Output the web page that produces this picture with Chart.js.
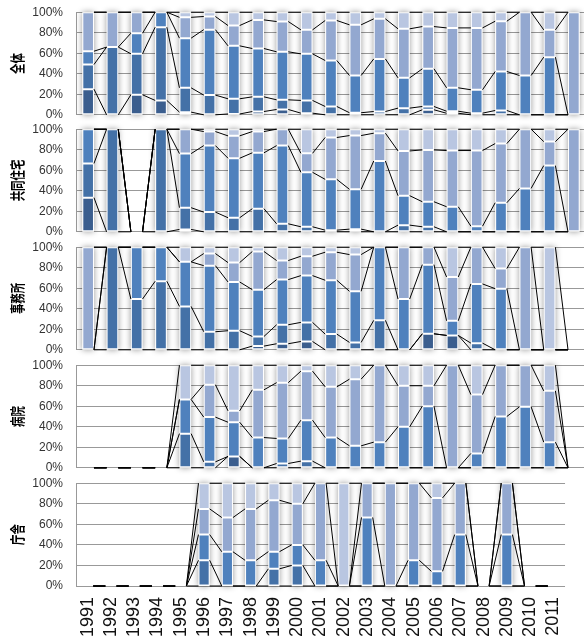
<!DOCTYPE html>
<html>
<head>
<meta charset="utf-8">
<script src="https://cdn.jsdelivr.net/npm/chart.js@4.4.1/dist/chart.umd.min.js"></script>
<style>
  html, body { margin: 0; padding: 0; background: #fff; overflow: hidden; width: 584px; height: 638px; position: relative; }
  canvas { position: absolute; left: 0; }
</style>
</head>
<body>
<canvas id="p1"></canvas>
<canvas id="p2"></canvas>
<canvas id="p3"></canvas>
<canvas id="p4"></canvas>
<canvas id="p5"></canvas>
<script>
// Years on the category axis
const years = ['1991','1992','1993','1994','1995','1996','1997','1998','1999','2000',
               '2001','2002','2003','2004','2005','2006','2007','2008','2009','2010','2011'];

// Panel titles
const panelTitles = ['全体', '共同住宅', '事務所', '病院', '庁舎'];

// Y tick values (percent)
const yTicks = [0, 20, 40, 60, 80, 100];

// 全体 — share per series (%), bottom to top
const whole1 = [25,0,19.5,14,2.6,0,0.8,3.2,5.2,1.6,0,0,0,0,4.9,1.5,0,0,0,0,0];
const whole2 = [24,66,40,71.4,23.7,19.2,14.8,14.3,9.4,12.4,8.1,2,3.2,6.5,3.2,2,1.6,4.2,0,0,0];
const whole3 = [13,0,20,14.6,48.4,63.8,51.6,47.1,46.8,45.4,44.8,36.3,51.3,29.5,36.7,22.8,22.8,38,38.3,56.2,0];
const whole4 = [38,34,20.5,0,20.3,12.8,19.8,27.9,29.5,23.4,39,49.4,39,47.8,41.2,58.4,60.3,49,61.7,26.6,100];
const whole5 = [0,0,0,0,5,4.2,13,7.5,9.1,17.2,8.1,12.3,6.5,16.2,14,15.3,15.3,8.8,0,17.2,0];

// 共同住宅
const housing1 = [33.3,0,0,0,2.3,0,0,0,0,0,0,0,0,0,0,0,0,0,0,0,0];
const housing2 = [33.3,100,0,100,21.2,19.2,13.7,22.5,7.8,4.9,1.6,2.6,0,6.5,4.9,0,0,0,0,0,0];
const housing3 = [33.4,0,0,0,52.7,64.8,58,54.5,76.2,53.1,49.5,38.8,69,28.7,24.4,24.4,5.5,28.3,42.3,64.5,0];
const housing4 = [0,0,0,0,23.8,13.7,21.8,20.7,16,18.5,40.8,52.4,27.1,43.6,50.5,54.8,73.7,57.7,57.7,23.4,100];
const housing5 = [0,0,0,0,0,2.3,6.5,2.3,0,23.5,8.1,6.2,3.9,21.2,20.2,20.8,20.8,14,0,12.1,0];

// 事務所
const office1 = [0,0,0,0,0,0,0,3.6,5.9,8.1,0,0,0,0,15.6,14,0,0,0,0,0];
const office2 = [0,100,49.5,66.8,42.3,17.6,18.6,9.4,18.5,18.6,15.3,7.2,28.7,0,0,0,6.5,0,0,0,0];
const office3 = [0,0,50.5,33.2,43.4,64.4,47.5,45.6,44,45.6,52.5,49.8,71.3,49.5,67.4,14.3,57.7,59.6,0,0,0];
const office4 = [100,0,0,0,0,11.8,18.9,37.2,18.6,18.9,27.3,35.8,0,50.5,17,42.7,35.8,19.6,100,0,0];
const office5 = [0,0,0,0,14.3,6.2,15,4.2,13,8.8,4.9,7.2,0,0,0,29,0,20.8,0,100,0];

// 病院
const hospital1 = [0,0,0,0,0,0,11.1,0,0,0,0,0,0,0,0,0,0,0,0,0,0];
const hospital2 = [0,0,0,0,33.3,5.8,0,0,4.2,6.5,0,0,0,0,0,0,0,0,0,0,0];
const hospital3 = [0,0,0,0,33.3,43.6,33.3,29.5,24.4,39.9,29.5,21.4,25,40,60,0,14,50,59.4,25,0];
const hospital4 = [0,0,0,0,0,31.6,11.1,46.5,54.4,47.8,49.4,65,75,40,20,100,57.4,50,40.6,50,0];
const hospital5 = [0,0,0,0,33.4,19,44.5,24,17,5.8,21.1,13.6,0,20,20,0,28.6,0,0,25,0];

// 庁舎
const govt1 = [0,0,0,0,0,0,0,0,0,0,0,0,0,0,0,0,0,0,0,0,0];
const govt2 = [0,0,0,0,0,25,0,0,16.7,20,0,0,0,0,0,0,0,0,0,0,0];
const govt3 = [0,0,0,0,0,25,33.3,25,16.7,20,25,0,66.7,0,25,14.3,50,0,50,0,0];
const govt4 = [0,0,0,0,0,25,33.3,50,50,40,75,0,33.3,100,75,71.4,50,0,50,0,0];
const govt5 = [0,0,0,0,0,25,33.4,25,16.6,20,0,100,0,0,0,14.3,0,0,0,0,0];

const seriesColors = ['#3B5E8E', '#4471A7', '#4F81BD', '#93A8D0', '#B9C6E1'];
const FONT = "'Liberation Sans', Arial, sans-serif";

// Draws a soft shadow behind each non-empty stacked column
const columnShadow = {
  id: 'columnShadow',
  beforeDatasetsDraw(chart) {
    const { ctx, scales: { y } } = chart;
    const meta = chart.getDatasetMeta(0);
    const sets = chart.data.datasets;
    ctx.save();
    ctx.shadowColor = 'rgba(0,0,0,0.42)';
    ctx.shadowBlur = 6;
    ctx.fillStyle = '#fff';
    meta.data.forEach((el, i) => {
      const total = sets.reduce((s, d) => s + d.data[i], 0);
      if (total <= 0) return;
      const top = y.getPixelForValue(total), bot = y.getPixelForValue(0);
      ctx.fillRect(el.x - el.width / 2, top, el.width, bot - top);
    });
    ctx.restore();
  }
};

// Series lines joining the top of each segment to the next column
const seriesLines = {
  id: 'seriesLines',
  afterDatasetsDraw(chart) {
    const { ctx, scales: { y } } = chart;
    const sets = chart.data.datasets;
    const meta = chart.getDatasetMeta(0);
    const n = chart.data.labels.length;
    const cum = sets.map(() => []);
    for (let i = 0; i < n; i++) {
      let s = 0;
      sets.forEach((d, k) => { s += d.data[i]; cum[k][i] = s; });
    }
    ctx.save();
    ctx.strokeStyle = '#000';
    ctx.lineWidth = 1;
    for (let k = 0; k < sets.length; k++) {
      for (let i = 0; i < n - 1; i++) {
        const a = meta.data[i], b = meta.data[i + 1];
        ctx.beginPath();
        ctx.moveTo(a.x + a.width / 2, y.getPixelForValue(cum[k][i]));
        ctx.lineTo(b.x - b.width / 2, y.getPixelForValue(cum[k][i + 1]));
        ctx.stroke();
      }
    }
    ctx.restore();
  }
};

// Vertical bold panel title at the left
const panelTitle = {
  id: 'panelTitle',
  afterDraw(chart, args, opts) {
    const { ctx, chartArea } = chart;
    ctx.save();
    ctx.translate(17.5, (chartArea.top + chartArea.bottom) / 2);
    ctx.rotate(-Math.PI / 2);
    ctx.scale(0.8, 1.15);
    ctx.font = "bold 13px 'Noto Sans CJK JP', sans-serif";
    ctx.fillStyle = '#000';
    ctx.textAlign = 'center';
    ctx.textBaseline = 'middle';
    ctx.fillText(opts.text, 0, 0);
    ctx.restore();
  }
};

const panels = [
  { id: 'p1', series: [whole1, whole2, whole3, whole4, whole5], top: 12, bottom: 115 },
  { id: 'p2', series: [housing1, housing2, housing3, housing4, housing5], top: 129, bottom: 231.5 },
  { id: 'p3', series: [office1, office2, office3, office4, office5], top: 247, bottom: 349.5 },
  { id: 'p4', series: [hospital1, hospital2, hospital3, hospital4, hospital5], top: 365, bottom: 468 },
  { id: 'p5', series: [govt1, govt2, govt3, govt4, govt5], top: 483, bottom: 585.5 }
];

const CANVAS_W = 586;

panels.forEach((p, idx) => {
  const last = idx === panels.length - 1;
  const canvas = document.getElementById(p.id);
  const startH = last ? 170 : 125;
  canvas.width = CANVAS_W;
  canvas.height = startH;
  canvas.style.width = CANVAS_W + 'px';
  canvas.style.height = startH + 'px';

  const chart = new Chart(canvas, {
    type: 'bar',
    data: {
      labels: years,
      datasets: p.series.map((vals, k) => ({
        label: 'S' + (k + 1),
        data: vals,
        backgroundColor: seriesColors[k],
        borderColor: 'rgba(255,255,255,0.85)',
        borderWidth: 1,
        borderSkipped: false,
        barPercentage: 0.48,
        categoryPercentage: 1
      }))
    },
    options: {
      responsive: false,
      maintainAspectRatio: false,
      animation: false,
      devicePixelRatio: 1,
      layout: { padding: { top: 0, bottom: 0, left: 0, right: 0 } },
      plugins: {
        legend: { display: false },
        tooltip: { enabled: false },
        panelTitle: { text: panelTitles[idx] }
      },
      scales: {
        x: {
          stacked: true,
          display: last,
          grid: { display: false, drawTicks: false },
          border: { display: false },
          ticks: {
            autoSkip: false,
            minRotation: 90,
            maxRotation: 90,
            padding: 11,
            color: '#111',
            font: { family: FONT, size: 18 }
          },
          afterFit(s) { if (last) s.height = 52; }
        },
        y: {
          stacked: true,
          min: 0,
          max: 100,
          afterBuildTicks(s) { s.ticks = yTicks.map(v => ({ value: v })); },
          grid: { color: '#999999', lineWidth: 1, drawTicks: false },
          border: { display: true, color: '#999999' },
          ticks: {
            autoSkip: false,
            padding: 13,
            color: '#333',
            font: { family: FONT, size: 12 },
            callback: v => v + '%'
          },
          afterFit(s) { s.width = 76; }
        }
      }
    },
    plugins: [columnShadow, seriesLines, panelTitle]
  });

  // Size the canvas so the plot area spans the panel's band, then place it
  const wantH = p.bottom - p.top;
  const gotH = chart.chartArea.bottom - chart.chartArea.top;
  const newH = Math.round(startH + (wantH - gotH));
  chart.resize(CANVAS_W, newH);
  canvas.style.top = (p.top - chart.chartArea.top) + 'px';
});
</script>
</body>
</html>
